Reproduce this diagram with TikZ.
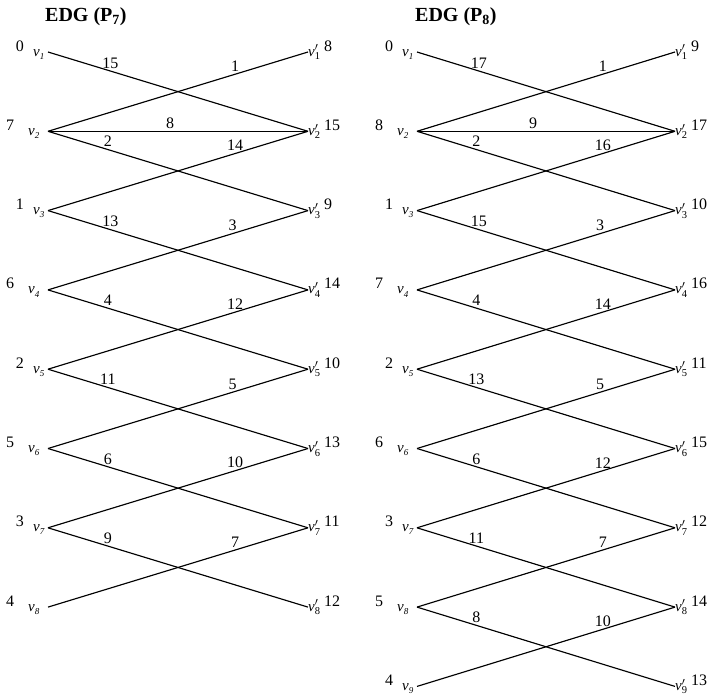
\documentclass[tikz,border=0pt]{standalone}
\usepackage{fontspec}
\setmainfont{Liberation Serif}
\newcommand\vsub[1]{\textit{v}\raisebox{-0.45ex}{\fontsize{9}{9}\selectfont\textit{#1}}}
\newcommand\vpr[1]{\textit{v}$'_{\mathrm{#1}}$}
\begin{document}
\begin{tikzpicture}[x=1pt,y=-1pt]
\useasboundingbox (0,0) rectangle (708,696);
\tikzset{
 edge/.style={line width=1.15pt},
 elbl/.style={above, inner sep=2pt, font=\fontsize{16}{16}\selectfont},
 num/.style={anchor=base, inner sep=0pt, font=\fontsize{16}{16}\selectfont},
 numr/.style={anchor=base west, inner sep=0pt, font=\fontsize{16}{16}\selectfont},
 vlbl/.style={anchor=base west, inner sep=0pt, font=\fontsize{15}{15}\selectfont},
 ttl/.style={anchor=base west, inner sep=0pt, font=\fontsize{20}{20}\selectfont\bfseries}
}
% titles
\node[ttl] (t7) at (45,21) {EDG (P\textsubscript{7})};
\node[ttl] (t8) at (415,21) {EDG (P\textsubscript{8})};
% ---------- P7 ----------
\foreach \i/\n/\s in {1/0/0,2/7/1,3/1/0,4/6/1,5/2/0,6/5/1,7/3/0,8/4/1}{
  \pgfmathsetmacro\yy{52+79.3*(\i-1)}
  \coordinate (A\i) at (48,\yy);
  \node[num] (An\i) at (20-10*\s,\yy-1) {\n};
  \node[vlbl] (Av\i) at (33-5*\s,\yy+4) {\vsub{\i}};
}
\foreach \i/\n in {1/8,2/15,3/9,4/14,5/10,6/13,7/11,8/12}{
  \pgfmathsetmacro\yy{52+79.3*(\i-1)}
  \coordinate (B\i) at (308,\yy);
  \node[vlbl] (Bv\i) at (308,\yy+4) {\vpr{\i}};
  \node[numr] (Bn\i) at (324,\yy-1) {\n};
}
\foreach \a/\b/\w/\p in {1/2/15/.24,2/1/1/.72,2/2/8/.47,2/3/2/.23,3/2/14/.72,3/4/13/.24,4/3/3/.71,4/5/4/.23,5/4/12/.72,5/6/11/.23,6/5/5/.71,6/7/6/.23,7/6/10/.72,7/8/9/.23,8/7/7/.72}{
  \draw[edge] (A\a) -- node[elbl,pos=\p] {\w} (B\b);
}
% ---------- P8 ----------
\foreach \i/\n/\s in {1/0/0,2/8/1,3/1/0,4/7/1,5/2/0,6/6/1,7/3/0,8/5/1,9/4/0}{
  \pgfmathsetmacro\yy{52+79.3*(\i-1)}
  \coordinate (C\i) at (417,\yy);
  \node[num] (Cn\i) at (389-10*\s,\yy-1) {\n};
  \node[vlbl] (Cv\i) at (402-5*\s,\yy+4) {\vsub{\i}};
}
\foreach \i/\n in {1/9,2/17,3/10,4/16,5/11,6/15,7/12,8/14,9/13}{
  \pgfmathsetmacro\yy{52+79.3*(\i-1)}
  \coordinate (D\i) at (675,\yy);
  \node[vlbl] (Dv\i) at (675,\yy+4) {\vpr{\i}};
  \node[numr] (Dn\i) at (691,\yy-1) {\n};
}
\foreach \a/\b/\w/\p in {1/2/17/.24,2/1/1/.72,2/2/9/.45,2/3/2/.23,3/2/16/.72,3/4/15/.24,4/3/3/.71,4/5/4/.23,5/4/14/.72,5/6/13/.23,6/5/5/.71,6/7/6/.23,7/6/12/.72,7/8/11/.23,8/7/7/.72,8/9/8/.23,9/8/10/.72}{
  \draw[edge] (C\a) -- node[elbl,pos=\p] {\w} (D\b);
}
\end{tikzpicture}
\end{document}
